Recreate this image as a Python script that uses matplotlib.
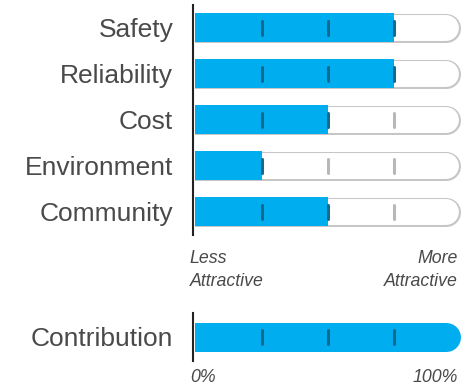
import matplotlib.pyplot as plt
from matplotlib.transforms import blended_transform_factory

categories = ['Safety', 'Reliability', 'Cost', 'Environment', 'Community']
scores = [3, 3, 2, 1, 2]          # out of max_score
max_score = 4
tick_marks = [1, 2, 3]
contribution_label = 'Contribution'
contribution = 4                  # full bar = 100%
scale_labels = ['Less\nAttractive', 'More\nAttractive']
pct_labels = ['0%', '100%']

BLUE = '#00AEEF'
DARK_TICK = '#13698F'
GRAY_TICK = '#B8B8B8'
OUTLINE = '#C6C6C6'
TEXT = '#4A4A4A'

plt.rcParams['font.family'] = ['Liberation Sans', 'DejaVu Sans']

W, H = 477, 385
fig = plt.figure(figsize=(W / 100, H / 100), dpi=100)

px_unit = 66.3  # pixels per score unit


def px_box(left, top, width, height):
    return [left / W, 1 - (top + height) / H, width / W, height / H]


def style_axis(ax, labels, ypos):
    for s in ['top', 'right', 'bottom']:
        ax.spines[s].set_visible(False)
    ax.spines['left'].set_position(('outward', 2))
    ax.spines['left'].set_linewidth(1.5)
    ax.spines['left'].set_color('#222222')
    ax.set_xticks([])
    ax.set_yticks(ypos)
    ax.set_yticklabels(labels, fontsize=19, color=TEXT)
    ax.tick_params(axis='y', length=0, pad=14)
    ax.set_xlim(0, 272 / px_unit)


def draw_row(ax, y, value, bar_px, h_units, outline=True):
    r = (bar_px / 2) / px_unit
    lw = bar_px * 0.72
    if outline:
        ax.plot([-1, max_score - r], [y, y], color=OUTLINE, lw=lw,
                solid_capstyle='round', zorder=1)
        ax.plot([-1, max_score - r], [y, y], color='white', lw=lw - 2.2,
                solid_capstyle='round', zorder=1.5)
    if value >= max_score:
        ax.plot([-1, max_score - r], [y, y], color=BLUE, lw=lw,
                solid_capstyle='round', zorder=2)
    else:
        ax.barh(y, value, height=h_units, color=BLUE, zorder=2)
    half = 7 / bar_px * h_units
    for t in tick_marks:
        c = DARK_TICK if t <= value else GRAY_TICK
        ax.plot([t, t], [y - half, y + half], color=c, lw=2.2,
                solid_capstyle='round', zorder=3)


# main rows
ax = fig.add_axes(px_box(195.5, 4.5, 272, 230))
ax.set_ylim(4.5, -0.5)
style_axis(ax, categories, range(len(categories)))
for i, v in enumerate(scores):
    draw_row(ax, i, v, 29, 29 / 46)

# contribution row
ax2 = fig.add_axes(px_box(195.5, 313, 272, 48))
ax2.set_ylim(0.5, -0.5)
style_axis(ax2, [contribution_label], [0])
draw_row(ax2, 0, contribution, 29, 29 / 48, outline=False)

trans = blended_transform_factory(ax2.transData, fig.transFigure)
ax2.annotate(scale_labels[0], xy=(0, 1 - 250 / H), xycoords=trans,
             xytext=(-4, 0), textcoords='offset points', ha='left', va='top',
             fontsize=12.8, style='italic', color=TEXT, linespacing=1.45)
ax2.annotate(scale_labels[1], xy=(max_score, 1 - 250 / H), xycoords=trans,
             xytext=(-2, 0), textcoords='offset points', ha='right', va='top',
             multialignment='right', fontsize=12.8, style='italic', color=TEXT,
             linespacing=1.45)
ax2.annotate(pct_labels[0], xy=(0, 1 - 369 / H), xycoords=trans,
             xytext=(-4, 0), textcoords='offset points', ha='left', va='top',
             fontsize=12.8, style='italic', color=TEXT)
ax2.annotate(pct_labels[1], xy=(max_score, 1 - 369 / H), xycoords=trans,
             xytext=(-2, 0), textcoords='offset points', ha='right', va='top',
             fontsize=12.8, style='italic', color=TEXT)

fig.savefig('out.png', dpi=100)
